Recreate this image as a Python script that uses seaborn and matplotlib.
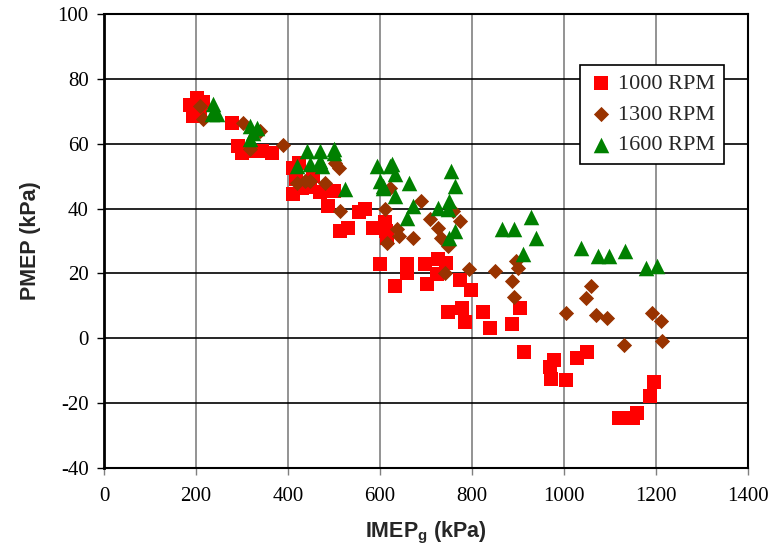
import pandas as pd
import matplotlib
matplotlib.use('Agg')
import matplotlib.pyplot as plt
import seaborn as sns

# IMEPg / PMEP readings (kPa) per engine speed
imep_1000 = [187, 202, 193, 215, 208, 278, 291, 299, 317, 343, 365,
             410, 425, 417, 410, 430, 447, 469, 499, 486, 454,
             513, 530, 555, 568, 585, 610, 614, 616,
             599, 658, 658, 697, 725, 744, 723, 632, 703, 773, 797,
             747, 779, 784, 823, 840, 888, 905, 914, 970, 979, 972, 1005, 1029, 1051,
             1120, 1150, 1159, 1187, 1196]
pmep_1000 = [72.0, 74.2, 68.6, 73.0, 70.2, 66.5, 59.4, 57.2, 57.8, 57.8, 57.2,
             52.5, 54.0, 49.0, 44.5, 46.4, 46.7, 45.0, 45.4, 40.8, 50.0,
             33.0, 34.0, 39.0, 40.0, 34.0, 36.0, 33.0, 31.0,
             22.9, 22.9, 20.1, 22.9, 24.4, 23.2, 19.8, 16.1, 16.7, 17.9, 14.8,
             8.0, 9.3, 4.9, 8.0, 3.1, 4.3, 9.3, -4.3, -8.7, -6.8, -12.4, -13.0, -6.2, -4.3,
             -24.7, -24.7, -22.9, -17.9, -13.6]

imep_1300 = [208, 215, 302, 339, 317, 389, 419, 436, 447, 480, 503, 510, 512,
             621, 690, 610, 708, 725, 733, 758, 773, 638, 642, 671, 616, 747,
             794, 742, 849, 896, 899, 886, 892, 1005, 1059, 1048, 1070, 1094, 1131,
             1192, 1211, 1213]
pmep_1300 = [71.7, 67.7, 66.5, 64.0, 58.4, 59.7, 47.9, 48.5, 48.5, 47.9, 54.0, 52.5, 39.3,
             46.4, 42.3, 39.9, 36.8, 34.0, 30.9, 39.3, 36.2, 33.7, 31.5, 30.9, 29.4, 28.4,
             21.3, 20.1, 20.7, 23.8, 21.6, 17.6, 12.7, 7.7, 16.1, 12.4, 7.1, 6.2, -2.2,
             7.7, 5.3, -0.9]

imep_1600 = [237, 245, 234, 317, 332, 317, 323,
             441, 469, 501, 419, 447, 469, 475, 501, 523,
             593, 621, 627, 599, 632, 606, 664, 606, 632, 671, 658,
             755, 764, 751, 725, 747, 762, 751,
             866, 892, 929, 940, 910, 1038, 1074, 1098, 1133, 1179, 1202]
pmep_1600 = [72.3, 69.2, 69.2, 65.5, 64.9, 61.5, 63.4,
             57.8, 57.8, 58.4, 53.2, 53.8, 54.7, 53.2, 57.2, 46.1,
             53.2, 53.2, 53.8, 48.5, 50.7, 46.4, 47.9, 47.0, 43.9, 40.8, 37.1,
             51.6, 47.0, 42.3, 40.2, 39.9, 33.1, 30.9,
             33.7, 33.7, 37.4, 30.9, 26.0, 27.8, 25.3, 25.3, 26.9, 21.6, 22.3]

speeds = ['1000 RPM', '1300 RPM', '1600 RPM']
colors = {'1000 RPM': '#FF0000', '1300 RPM': '#993300', '1600 RPM': '#008000'}
markers = {'1000 RPM': 's', '1300 RPM': 'D', '1600 RPM': '^'}
sizes = {'1000 RPM': 90, '1300 RPM': 60, '1600 RPM': 125}

df = pd.concat([
    pd.DataFrame({'imep': imep_1000, 'pmep': pmep_1000, 'speed': speeds[0]}),
    pd.DataFrame({'imep': imep_1300, 'pmep': pmep_1300, 'speed': speeds[1]}),
    pd.DataFrame({'imep': imep_1600, 'pmep': pmep_1600, 'speed': speeds[2]}),
])

sns.set_style('ticks')
plt.rcParams['font.family'] = ['Liberation Serif', 'DejaVu Serif']
plt.rcParams['mathtext.fontset'] = 'custom'
plt.rcParams['mathtext.bf'] = 'Liberation Sans:bold'
plt.rcParams['axes.unicode_minus'] = False

fig = plt.figure(figsize=(7.73, 5.5), dpi=100)
ax = fig.add_axes([0.1345, 0.149, 0.8332, 0.8255])

for spd in speeds:
    sub = df[df['speed'] == spd]
    sns.scatterplot(data=sub, x='imep', y='pmep', ax=ax, color=colors[spd],
                    marker=markers[spd], s=sizes[spd], linewidth=0, label=spd,
                    zorder=3)

ax.set_xlim(0, 1400)
ax.set_ylim(-40, 100)
ax.set_xticks(range(0, 1401, 200))
ax.set_yticks(range(-40, 101, 20))
ax.tick_params(axis='both', direction='out', length=5, width=1, labelsize=15,
               colors='black', pad=6)
ax.tick_params(axis='x', color='#808080', pad=9)

# grid: grey verticals, black horizontals
for xv in range(200, 1400, 200):
    ax.axvline(xv, color='#808080', lw=1.2, zorder=1)
for yv in range(-20, 100, 20):
    ax.axhline(yv, color='black', lw=1.2, zorder=1)

for side in ['left', 'right', 'top', 'bottom']:
    ax.spines[side].set_visible(True)
    ax.spines[side].set_color('black')
    ax.spines[side].set_linewidth(1.5)
ax.spines['left'].set_linewidth(2)

ax.set_xlabel(r'IMEP$_\mathbf{g}$ (kPa)', fontfamily='Liberation Sans',
              fontweight='bold', fontsize=15.5, labelpad=10)
ax.set_ylabel('PMEP (kPa)', fontfamily='Liberation Sans', fontweight='bold',
              fontsize=15.5, labelpad=12)

leg = ax.legend(loc='upper right', bbox_to_anchor=(0.962, 0.888), fontsize=16,
                frameon=True, fancybox=False, edgecolor='black', framealpha=1,
                borderpad=0.4, labelspacing=0.45, handletextpad=0.2,
                handlelength=1.1, borderaxespad=0)
leg.get_frame().set_linewidth(1.2)

plt.savefig('out.png', dpi=100)
